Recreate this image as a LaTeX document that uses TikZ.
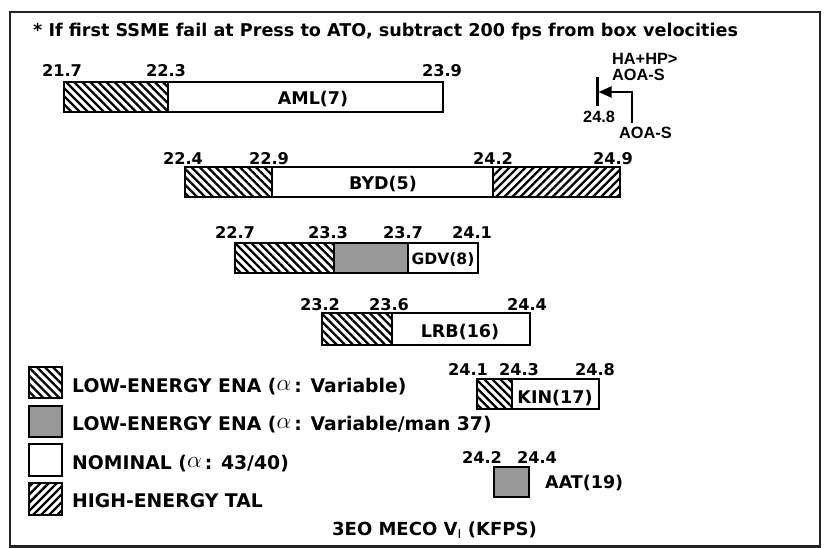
\documentclass[tikz,border=0pt]{standalone}
\usepackage{fontspec}
\setmainfont{DejaVu Sans}
\newfontfamily\annfont{Liberation Sans}
\usetikzlibrary{patterns.meta,arrows.meta}
\definecolor{barfill}{RGB}{152,152,152}
\definecolor{framecol}{RGB}{35,35,35}
\newcommand\legalpha{\raisebox{1.2pt}{\scalebox{1.35}{$\alpha$}}\,}
\tikzset{
  lowhatch/.style={pattern={Lines[angle=-45,distance=5.7pt,line width=2.3pt]}},
  highhatch/.style={pattern={Lines[angle=45,distance=5.7pt,line width=2.3pt]}},
  grayfill/.style={fill=barfill},
  barline/.style={line width=2.7pt, line join=miter},
  framebox/.style={line width=2.6pt, draw=framecol},
  num/.style={anchor=base, inner sep=0pt, font=\bfseries\fontsize{16.2}{18}\selectfont},
  barlab/.style={anchor=base, inner sep=0pt, font=\bfseries\fontsize{17.5}{20}\selectfont},
  smallbarlab/.style={barlab, font=\bfseries\fontsize{15.6}{18}\selectfont},
  legtext/.style={anchor=base west, inner sep=0pt, font=\bfseries\fontsize{18.8}{22}\selectfont},
  titletext/.style={anchor=base west, inner sep=0pt, font=\bfseries\fontsize{17.6}{20}\selectfont},
  anntext/.style={anchor=base west, inner sep=0pt, font=\annfont\bfseries\fontsize{16.3}{18}\selectfont},
  annline/.style={line width=1.8pt},
  ticklines/.style={line width=3pt},
}
\begin{document}
\begin{tikzpicture}[x=1pt,y=1pt]
\useasboundingbox (0,0) rectangle (825,-548);
\draw[framebox] (10,-12) rectangle (820,-546.5);

\node[titletext] (title) at (33,-37) {* If first SSME fail at Press to ATO, subtract 200 fps from box velocities};

% AML
\path[lowhatch] (64,-82) rectangle (168,-112);
\draw[barline] (64,-82) rectangle (443,-112) (168,-82) -- (168,-112);
\node[num] (aml1) at (62,-77) {21.7};
\node[num] (aml2) at (166,-77) {22.3};
\node[num] (aml3) at (442,-77) {23.9};
\node[barlab] (aml) at (313,-105) {AML(7)};

% BYD
\path[lowhatch] (185,-167) rectangle (272,-197);
\path[highhatch] (493,-167) rectangle (620,-197);
\draw[barline] (185,-167) rectangle (620,-197) (272,-167) -- (272,-197) (493,-167) -- (493,-197);
\node[num] (byd1) at (183,-165) {22.4};
\node[num] (byd2) at (269,-165) {22.9};
\node[num] (byd3) at (493,-165) {24.2};
\node[num] (byd4) at (613,-165) {24.9};
\node[barlab] (byd) at (383,-190) {BYD(5)};

% GDV
\path[lowhatch] (235,-243) rectangle (334,-273);
\path[grayfill] (334,-243) rectangle (408,-273);
\draw[barline] (235,-243) rectangle (478,-273) (334,-243) -- (334,-273) (408,-243) -- (408,-273);
\node[num] (gdv1) at (235,-239) {22.7};
\node[num] (gdv2) at (328,-239) {23.3};
\node[num] (gdv3) at (403,-239) {23.7};
\node[num] (gdv4) at (472,-239) {24.1};
\node[smallbarlab] (gdv) at (443,-265) {GDV(8)};

% LRB
\path[lowhatch] (322,-313) rectangle (392,-345);
\draw[barline] (322,-313) rectangle (530,-345) (392,-313) -- (392,-345);
\node[num] (lrb1) at (320,-310) {23.2};
\node[num] (lrb2) at (389,-310) {23.6};
\node[num] (lrb3) at (527,-310) {24.4};
\node[barlab] (lrb) at (460,-337) {LRB(16)};

% KIN
\path[lowhatch] (477,-379) rectangle (512,-409);
\draw[barline] (477,-379) rectangle (599,-409) (512,-379) -- (512,-409);
\node[num] (kin1) at (468,-375) {24.1};
\node[num] (kin2) at (519,-375) {24.3};
\node[num] (kin3) at (595,-375) {24.8};
\node[barlab] (kin) at (555,-403) {KIN(17)};

% AAT
\path[grayfill] (494,-467) rectangle (529,-497);
\draw[barline] (494,-467) rectangle (529,-497);
\node[num] (aat1) at (482,-463) {24.2};
\node[num] (aat2) at (537,-463) {24.4};
\node[barlab, anchor=base west] (aat) at (545,-488) {AAT(19)};

% annotation
\coordinate (tickT) at (597,-77);
\coordinate (tickB) at (597,-106);
\coordinate (tickM) at (598.5,-92);
\coordinate (foot) at (632,-123);
\draw[ticklines] (tickT) -- (tickB);
\draw[annline, -{Triangle[length=13pt,width=11pt]}] (foot) |- (tickM);
\node[anntext] (hahp) at (612,-64.5) {HA+HP>};
\node[anntext] (aoa1) at (612,-81) {AOA-S};
\node[anntext] (v248) at (583,-123) {24.8};
\node[anntext] (aoa2) at (619,-139) {AOA-S};

% legend
\path[lowhatch] (29,-367) rectangle (62,-398);
\draw[barline] (29,-367) rectangle (62,-398);
\node[legtext] (leg1) at (72,-392) {LOW-ENERGY ENA (\legalpha: Variable)};
\path[grayfill] (29,-406) rectangle (62,-437);
\draw[barline] (29,-406) rectangle (62,-437);
\node[legtext] (leg2) at (72,-430) {LOW-ENERGY ENA (\legalpha: Variable/man 37)};
\draw[barline] (29,-444) rectangle (62,-476);
\node[legtext] (leg3) at (72,-469) {NOMINAL (\legalpha: 43/40)};
\path[highhatch] (29,-483) rectangle (62,-515);
\draw[barline] (29,-483) rectangle (62,-515);
\node[legtext] (leg4) at (72,-507) {HIGH-ENERGY TAL};

\node[legtext, font=\bfseries\fontsize{18}{20}\selectfont] (axis) at (332,-535) {3EO MECO V$_{\mathrm{I}}$ (KFPS)};
\end{tikzpicture}
\end{document}
